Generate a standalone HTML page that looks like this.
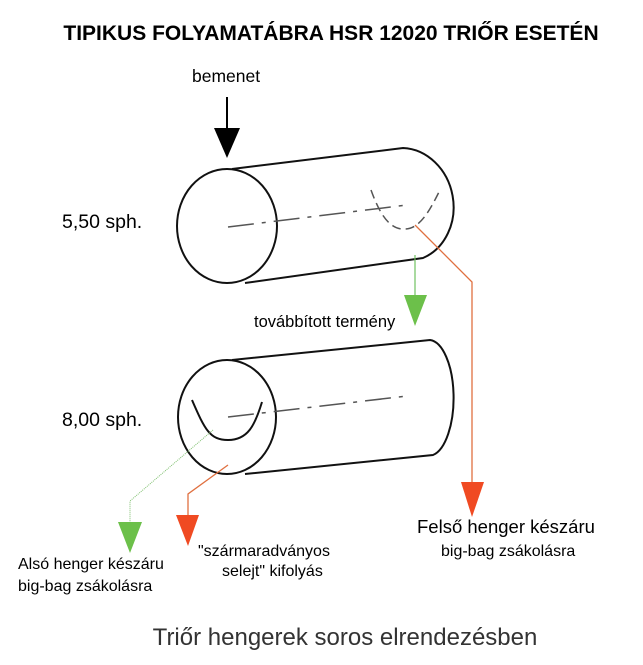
<!DOCTYPE html><html><head><style>body{margin:0;background:#fff}svg{display:block}text{font-family:"Liberation Sans",sans-serif}</style></head><body>
<svg width="643" height="665" viewBox="0 0 643 665">
<text x="331" y="40" font-size="21" font-weight="bold" text-anchor="middle">TIPIKUS FOLYAMATÁBRA HSR 12020 TRIŐR ESETÉN</text>
<text x="192" y="82" font-size="17.5">bemenet</text>
<line x1="227" y1="97" x2="227" y2="130" stroke="#000" stroke-width="2"/>
<polygon points="214,128 240,128 227,158" fill="#000"/>
<text x="62" y="228" font-size="19.5">5,50 sph.</text>
<text x="62" y="426" font-size="19.5">8,00 sph.</text>
<g fill="none" stroke="#111" stroke-width="2">
<ellipse cx="227" cy="226" rx="50" ry="57"/>
<path d="M232,169 L403,148 A50 57 -10 0 1 423,258 L245,283"/>
<ellipse cx="227" cy="417" rx="49" ry="57"/>
<path d="M232,360 L430,340 A25 58 0 0 1 433,455 L245,474"/>
<path d="M192,400 C205,430 210,440 228,440 C248,440 255,425 262,402"/>
</g>
<g fill="none" stroke="#555" stroke-width="1.5" stroke-dasharray="26,8,4,8">
<line x1="228" y1="227" x2="407" y2="205"/>
<line x1="228" y1="417" x2="407" y2="396"/>
</g>
<path d="M371,190 C380,215 390,230 405,229 C420,229 430,210 440,190" fill="none" stroke="#555" stroke-width="1.5" stroke-dasharray="9,5"/>
<polyline points="415,225 472,282 472,482" fill="none" stroke="#e07040" stroke-width="1.3"/>
<polygon points="461,482 484,482 472,517" fill="#f04a22"/>
<line x1="415" y1="255" x2="415" y2="296" stroke="#70c060" stroke-width="1.2"/>
<polygon points="404,295 427,295 415,326" fill="#6cc04a"/>
<polyline points="213,430 130,501 130,522" fill="none" stroke="#80c070" stroke-width="1" stroke-dasharray="1,1"/>
<polygon points="118,522 142,522 130,553" fill="#6cc04a"/>
<polyline points="228,465 188,494 188,515" fill="none" stroke="#e07040" stroke-width="1.3"/>
<polygon points="176,515 199,515 188,546" fill="#f04a22"/>
<text x="254" y="327" font-size="16.5">továbbított termény</text>
<text x="417" y="533" font-size="18.5">Felső henger készáru</text>
<text x="441" y="556" font-size="16">big-bag zsákolásra</text>
<text x="18" y="569" font-size="16">Alsó henger készáru</text>
<text x="18" y="591" font-size="16">big-bag zsákolásra</text>
<text x="198" y="556" font-size="16">"szármaradványos</text>
<text x="222" y="576" font-size="16">selejt" kifolyás</text>
<text x="345" y="645" font-size="24" fill="#333" text-anchor="middle">Triőr hengerek soros elrendezésben</text>
</svg></body></html>
